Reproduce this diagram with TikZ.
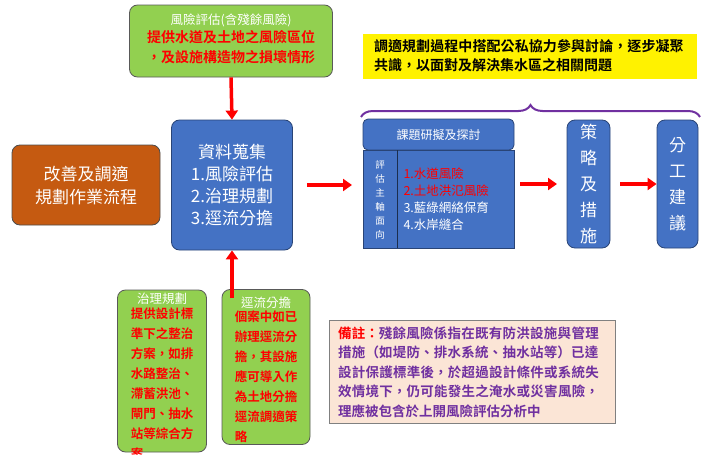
\documentclass[tikz,border=0pt]{standalone}
\usepackage{fontspec}
\setmainfont{Noto Sans CJK TC}[BoldFont={Noto Sans CJK TC Bold}]
\XeTeXlinebreaklocale "zh"
\XeTeXlinebreakskip=0pt plus 1pt
\usetikzlibrary{positioning,decorations.pathreplacing,arrows.meta}
\definecolor{grn}{RGB}{146,208,80}
\definecolor{blu}{RGB}{68,114,196}
\definecolor{org}{RGB}{197,90,17}
\definecolor{pnk}{RGB}{251,229,214}
\definecolor{prp}{RGB}{112,48,160}
\tikzset{
  box/.style={draw=blu!60!black,thick,rounded corners=8pt,text=white,align=center,inner sep=2pt},
  gbox/.style={box,fill=grn,draw=gray!70!black},
  bbox/.style={box,fill=blu},
  redarr/.style={-{Triangle[length=9pt,width=12pt]},line width=3.5pt,red},
  rd/.style={text=red,font=\bfseries\fontsize{12.5}{20}\selectfont}
}
\begin{document}
\begin{tikzpicture}[x=1pt,y=-1pt]
\useasboundingbox (0,0) rectangle (710,455);
% top green box
\node[gbox,minimum width=203pt,minimum height=72pt] (risk) at (231,41) {};
\node[font=\fontsize{12.5}{14}\selectfont,text=white] (riskt) at (231,20) {風險評估(含殘餘風險)};
\node[rd,font=\bfseries\fontsize{14}{20}\selectfont,align=center,below=-3pt of riskt] (riskr) {提供水道及土地之風險區位\\，及設施構造物之損壞情形};
% data box
\node[bbox,minimum width=121pt,minimum height=130pt,font=\fontsize{17}{22}\selectfont] (data) at (232,185)
  {資料蒐集\\1.風險評估\\2.治理規劃\\3.逕流分擔};
\node[box,fill=org,draw=gray!60!black,minimum width=148pt,minimum height=80pt,font=\fontsize{17}{23}\selectfont] (flow) at (86,185)
  {改善及調適\\規劃作業流程};
% bottom green boxes
\node[gbox,minimum width=89pt,minimum height=162pt] (gov) at (162,371) {};
\node[font=\fontsize{12.5}{14}\selectfont,text=white,below=0pt of gov.north] (govt) {治理規劃};
\node[rd,align=left,below=-4pt of govt] (govr) {提供設計標\\準下之整治\\方案，如排\\水路整治、\\滯蓄洪池、\\閘門、抽水\\站等綜合方\\案};
\node[gbox,minimum width=88pt,minimum height=155pt] (run) at (266,367) {};
\node[font=\fontsize{12.5}{14}\selectfont,text=white,below=4pt of run.north] (runt) {逕流分擔};
\node[rd,align=left,below=-4pt of runt] (runr) {個案中如已\\辦理逕流分\\擔，其設施\\應可導入作\\為土地分擔\\逕流調適策\\略};
% note
\node[draw=gray,fill=pnk,minimum width=286pt,minimum height=103pt,text width=268pt,align=left,
  text=prp,font=\bfseries\fontsize{13.5}{19.5}\selectfont] (note) at (472,372)
  {\textcolor{red}{備註：}殘餘風險係指在既有防洪設施與管理措施（如堤防、排水系統、抽水站等）已達設計保護標準後，於超過設計條件或系統失效情境下，仍可能發生之淹水或災害風險，理應被包含於上開風險評估分析中};
% yellow
\node[fill=yellow,minimum width=334pt,minimum height=45pt,text width=312pt,align=left,
  font=\bfseries\fontsize{14}{19}\selectfont] (talk) at (530,56)
  {調適規劃過程中搭配公私協力參與討論，逐步凝聚共識，以面對及解決集水區之相關問題};
% issue boxes
\node[bbox,rounded corners=5pt,minimum width=151pt,minimum height=31pt,font=\fontsize{12}{14}\selectfont] (issue) at (438.5,134.5) {課題研擬及探討};
\draw[fill=blu,draw=blu!60!black] (363,150) rectangle (514,248);
\draw[blu!40!black] (397,150) -- (397,248);
\node[text=white,align=center,font=\fontsize{9.5}{14}\selectfont] (axis) at (380,200) {評\\估\\主\\軸\\面\\向};
\node[text=white,align=left,font=\fontsize{12.5}{17}\selectfont,anchor=west] (items) at (400,199)
  {\textcolor{red}{1.水道風險}\\\textcolor{red}{2.土地洪氾風險}\\3.藍綠網絡保育\\4.水岸縫合};
\node[bbox,minimum width=43pt,minimum height=128pt,font=\fontsize{17}{26}\selectfont] (strat) at (588.5,184) {策\\略\\及\\措\\施};
\node[bbox,minimum width=41pt,minimum height=128pt,font=\fontsize{17}{26}\selectfont] (work) at (677.5,184) {分\\工\\建\\議};
% brace
\draw[prp,line width=2pt,decorate,decoration={brace,amplitude=12pt}] (361,117) -- (700,117);
% arrows
\coordinate (dbot) at (232,298);
\coordinate (dright) at (352,185);
\coordinate (iright) at (557,184);
\draw[redarr] (risk.south) -- (data.north);
\draw[redarr] (dbot) -- (data.south);
\draw[redarr] (data.east) ++(14,0) -- (dright);
\draw[redarr] (514,184) ++(6,0) -- (iright);
\draw[redarr] (strat.east) ++(10,0) -- (work.west);
\end{tikzpicture}
\end{document}
